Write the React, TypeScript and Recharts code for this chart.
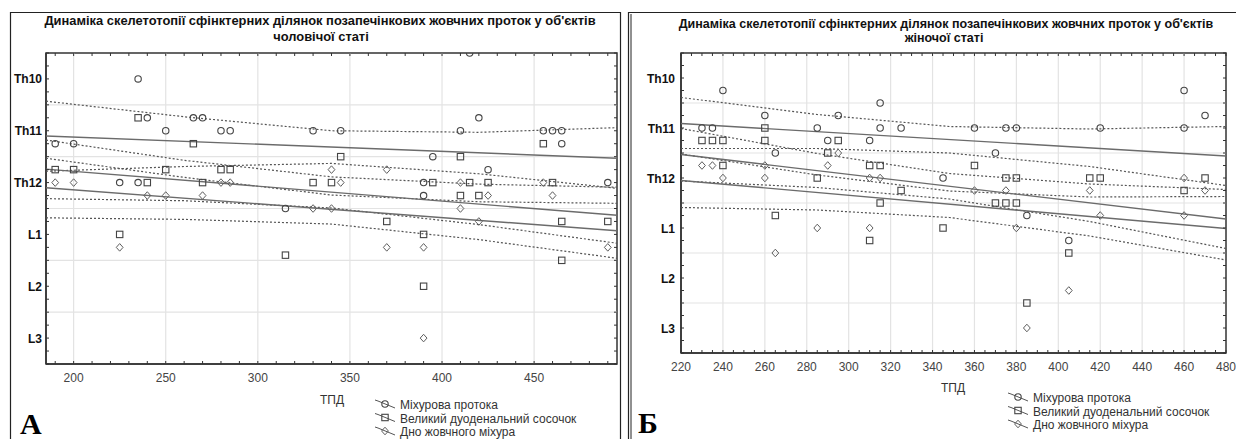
import React from 'react';
import { ScatterChart, Scatter, XAxis, YAxis, ReferenceLine, ReferenceArea } from 'recharts';

type Pt = [number, number];

const seriesNames = ['Міхурова протока', 'Великий дуоденальний сосочок', 'Дно жовчного міхура'];
const titleLine1 = "Динаміка скелетотопії сфінктерних ділянок позапечінкових жовчних проток у об'єктів";
const vertebraTicks = [10, 11, 12, 13, 14, 15];
const vertebraLabels = ['Th10', 'Th11', 'Th12', 'L1', 'L2', 'L3'];
const vertebraGrid = [10.5, 11.5, 12.5, 13.5, 14.5];

// A - чоловіча стать
const maleXLabels = [200, 250, 300, 350, 400, 450];
const maleDuct: Pt[] = [
  [235, 10], [240, 10.75], [265, 10.75], [270, 10.75], [250, 11], [280, 11], [285, 11], [330, 11],
  [345, 11], [190, 11.25], [200, 11.25], [225, 12], [235, 12], [315, 12.5], [390, 12], [390, 12.25],
  [395, 11.5], [410, 11], [420, 10.75], [425, 11.75], [455, 11], [460, 11], [465, 11], [465, 11.25],
  [490, 12], [415, 9.5],
];
const malePapilla: Pt[] = [
  [235, 10.75], [265, 11.25], [190, 11.75], [200, 11.75], [240, 12], [250, 11.75], [270, 12], [280, 11.75],
  [285, 11.75], [225, 13], [315, 13.4], [330, 12], [340, 12], [345, 11.5], [370, 12.75], [390, 13],
  [390, 14], [395, 12], [410, 11.5], [415, 12], [410, 12.25], [420, 12.25], [425, 12], [455, 11.25],
  [460, 12], [465, 12.75], [465, 13.5], [490, 12.75],
];
const maleFundus: Pt[] = [
  [190, 12], [200, 12], [240, 12.25], [250, 12.25], [270, 12.25], [280, 12], [285, 12], [225, 13.25],
  [330, 12.5], [340, 12.5], [340, 11.75], [345, 12], [370, 11.75], [370, 13.25], [390, 13.25], [390, 15],
  [410, 12], [410, 12.5], [425, 12.25], [420, 12.75], [455, 12], [460, 12.25], [490, 13.25],
];
const maleFitX = [185, 495];
const maleDuctFit = [11.1, 11.53];
const malePapillaFit = [11.74, 12.63];
const maleFundusFit = [12.1, 12.93];
const maleBandX = [185, 260, 340, 420, 495];
const maleDuctUpper = [10.43, 10.73, 11.0, 11.03, 10.94];
const maleDuctLower = [11.78, 11.69, 11.63, 11.83, 12.11];
const malePapillaUpper = [11.18, 11.57, 11.89, 12.03, 12.09];
const malePapillaLower = [12.31, 12.35, 12.49, 12.81, 13.17];
const maleFundusUpper = [11.53, 11.9, 12.24, 12.37, 12.4];
const maleFundusLower = [12.68, 12.71, 12.8, 13.1, 13.46];

// Б - жіноча стать
const femaleXLabels = [220, 240, 260, 280, 300, 320, 340, 360, 380, 400, 420, 440, 460, 480];
const femaleDuct: Pt[] = [
  [240, 10.25], [230, 11], [235, 11], [260, 10.75], [265, 11.5], [285, 11], [290, 11.25], [295, 10.75],
  [310, 11.25], [315, 10.5], [315, 11], [325, 11], [345, 12], [360, 11], [370, 11.5], [375, 11],
  [380, 11], [385, 12.75], [405, 13.25], [420, 11], [460, 10.25], [460, 11], [470, 10.75],
];
const femalePapilla: Pt[] = [
  [230, 11.25], [235, 11.25], [240, 11.25], [240, 11.75], [260, 11], [260, 11.25], [265, 12.75], [285, 12],
  [295, 11.25], [290, 11.5], [310, 11.75], [315, 11.75], [325, 12.25], [315, 12.5], [310, 13.25], [345, 13],
  [360, 11.75], [375, 12], [380, 12], [370, 12.5], [375, 12.5], [380, 12.5], [405, 13.5], [385, 14.5],
  [415, 12], [420, 12], [460, 12.25], [470, 12],
];
const femaleFundus: Pt[] = [
  [230, 11.75], [235, 11.75], [240, 12], [260, 11.75], [260, 12], [265, 13.5], [285, 13], [295, 11.5],
  [290, 11.75], [310, 12], [315, 12], [310, 13], [360, 12.25], [375, 12.25], [380, 13], [405, 14.25],
  [385, 15], [415, 12.25], [420, 12.75], [460, 12], [460, 12.75], [470, 12.25],
];
const femaleFitX = [220, 480];
const femaleDuctFit = [10.91, 11.56];
const femalePapillaFit = [11.53, 12.82];
const femaleFundusFit = [12.05, 13.01];
const femaleBandX = [220, 285, 348, 415, 480];
const femaleDuctUpper = [10.39, 10.73, 10.97, 11.02, 10.97];
const femaleDuctLower = [11.41, 11.41, 11.5, 11.77, 12.15];
const femalePapillaUpper = [11.01, 11.51, 11.91, 12.12, 12.23];
const femalePapillaLower = [12.06, 12.19, 12.42, 12.87, 13.41];
const femaleFundusUpper = [11.52, 11.94, 12.26, 12.38, 12.37];
const femaleFundusLower = [12.59, 12.64, 12.79, 13.16, 13.64];

const H = 439;
const TOP = 53;
const FONT = '"Liberation Sans", Arial, sans-serif';

const range = (a: number, b: number, step: number) => {
  const out: number[] = [];
  for (let v = a; v <= b + 1e-9; v += step) out.push(Math.round(v * 100) / 100);
  return out;
};

const toXY = (xs: number[], ys: number[]) => xs.map((x, i) => ({ x, y: ys[i] }));

function Marker({ kind, cx, cy }: { kind: number; cx: number; cy: number }) {
  if (kind === 0) return <circle cx={cx} cy={cy} r={3.2} fill="none" stroke="#444" strokeWidth={1.1} />;
  if (kind === 1)
    return <rect x={cx - 3.2} y={cy - 3.2} width={6.4} height={6.4} fill="none" stroke="#444" strokeWidth={1.1} />;
  return (
    <path
      d={`M${cx},${cy - 3.8}L${cx + 3.4},${cy}L${cx},${cy + 3.8}L${cx - 3.4},${cy}Z`}
      fill="none"
      stroke="#5e5e5e"
      strokeWidth={1}
    />
  );
}

interface PanelProps {
  left: number;
  width: number;
  marginRight: number;
  marginBottom: number;
  yAxisWidth: number;
  labelGap: number;
  xDomain: [number, number];
  xTicks: number[];
  xLabels: number[];
  xGrid: number[];
  points: Pt[][];
  fitX: number[];
  fits: number[][];
  bandX: number[];
  bands: number[][];
}

function Panel(p: PanelProps) {
  const plotW = p.width - p.marginRight - p.yAxisWidth;
  const plotH = H - TOP - p.marginBottom - 30;
  const yTicks = range(9.5, 15.5, 0.25);

  const XTick = (t: any) => {
    const v = t.payload.value;
    const major = p.xLabels.includes(v);
    return (
      <g>
        <line x1={t.x} x2={t.x} y1={t.y} y2={t.y - 3} stroke="#333" />
        <line x1={t.x} x2={t.x} y1={t.y - plotH} y2={t.y - plotH + 3} stroke="#333" />
        {major && (
          <text x={t.x} y={t.y + 18} textAnchor="middle" fontSize={12} fontFamily={FONT} fill="#444">
            {v}
          </text>
        )}
      </g>
    );
  };

  const YTick = (t: any) => {
    const v = t.payload.value;
    const idx = vertebraTicks.indexOf(v);
    return (
      <g>
        <line x1={t.x} x2={t.x + 3} y1={t.y} y2={t.y} stroke="#333" />
        <line x1={t.x + plotW} x2={t.x + plotW - 3} y1={t.y} y2={t.y} stroke="#333" />
        {idx >= 0 && (
          <text
            x={t.x - p.labelGap}
            y={t.y + 4.5}
            textAnchor="end"
            fontSize={12}
            fontWeight="bold"
            fontFamily={FONT}
            fill="#111"
          >
            {vertebraLabels[idx]}
          </text>
        )}
      </g>
    );
  };

  return (
    <div style={{ position: 'absolute', left: p.left, top: 0 }}>
      <ScatterChart
        width={p.width}
        height={H}
        margin={{ top: TOP, right: p.marginRight, bottom: p.marginBottom, left: 0 }}
      >
        <XAxis
          type="number"
          dataKey="x"
          domain={p.xDomain}
          ticks={p.xTicks}
          interval={0}
          allowDataOverflow
          height={30}
          tickSize={0}
          tickMargin={0}
          tickLine={false}
          axisLine={{ stroke: '#333', strokeWidth: 1.5 }}
          tick={XTick}
        />
        <YAxis
          type="number"
          dataKey="y"
          domain={[9.5, 15.5]}
          reversed
          ticks={yTicks}
          interval={0}
          allowDataOverflow
          width={p.yAxisWidth}
          tickSize={0}
          tickMargin={0}
          tickLine={false}
          axisLine={{ stroke: '#333', strokeWidth: 1.5 }}
          tick={YTick}
        />
        {vertebraGrid.map((g) => (
          <ReferenceLine key={'h' + g} y={g} stroke="#e3e3e3" strokeWidth={1.2} />
        ))}
        {p.xGrid.map((g) => (
          <ReferenceLine key={'v' + g} x={g} stroke="#e3e3e3" strokeWidth={1.2} />
        ))}
        <ReferenceArea
          x1={p.xDomain[0]}
          x2={p.xDomain[1]}
          y1={9.5}
          y2={15.5}
          fill="none"
          fillOpacity={0}
          stroke="#333"
          strokeWidth={1.5}
        />
        {p.bands.map((b, i) => (
          <Scatter
            key={'b' + i}
            data={toXY(p.bandX, b)}
            line={{ stroke: '#555', strokeWidth: 1.2, strokeDasharray: '2 2' }}
            shape={() => <g />}
            isAnimationActive={false}
          />
        ))}
        {p.fits.map((f, i) => (
          <Scatter
            key={'f' + i}
            data={toXY(p.fitX, f)}
            line={{ stroke: '#6b6b6b', strokeWidth: 1.4 }}
            shape={() => <g />}
            isAnimationActive={false}
          />
        ))}
        {p.points.map((pts, i) => (
          <Scatter
            key={'p' + i}
            name={seriesNames[i]}
            data={pts.map(([x, y]) => ({ x, y }))}
            shape={(s: any) => <Marker kind={i} cx={s.cx} cy={s.cy} />}
            isAnimationActive={false}
          />
        ))}
      </ScatterChart>
    </div>
  );
}

function LegendBlock({ x, y }: { x: number; y: number }) {
  return (
    <g>
      {seriesNames.map((n, i) => {
        const cy = y + i * 13.5;
        return (
          <g key={n}>
            <path d={`M${x},${cy - 5} L${x + 3},${cy - 4} L${x + 20},${cy + 3}`} stroke="#555" fill="none" />
            <Marker kind={i} cx={x + 10} cy={cy - 1} />
            <text x={x + 25} y={cy + 4} fontSize={12} fontFamily={FONT} fill="#333">
              {n}
            </text>
          </g>
        );
      })}
    </g>
  );
}

export default function App() {
  return (
    <div style={{ position: 'absolute', left: 0, top: 0, width: 1236, height: H, background: '#fff', overflow: 'hidden' }}>
      <Panel
        left={0}
        width={630}
        marginRight={13}
        marginBottom={45}
        yAxisWidth={46}
        labelGap={4}
        xDomain={[185, 495]}
        xTicks={range(190, 490, 10)}
        xLabels={maleXLabels}
        xGrid={maleXLabels}
        points={[maleDuct, malePapilla, maleFundus]}
        fitX={maleFitX}
        fits={[maleDuctFit, malePapillaFit, maleFundusFit]}
        bandX={maleBandX}
        bands={[maleDuctUpper, maleDuctLower, malePapillaUpper, malePapillaLower, maleFundusUpper, maleFundusLower]}
      />
      <Panel
        left={630}
        width={606}
        marginRight={10}
        marginBottom={56}
        yAxisWidth={51}
        labelGap={6}
        xDomain={[220, 480]}
        xTicks={range(220, 480, 5)}
        xLabels={femaleXLabels}
        xGrid={femaleXLabels.slice(1, -1)}
        points={[femaleDuct, femalePapilla, femaleFundus]}
        fitX={femaleFitX}
        fits={[femaleDuctFit, femalePapillaFit, femaleFundusFit]}
        bandX={femaleBandX}
        bands={[
          femaleDuctUpper, femaleDuctLower, femalePapillaUpper, femalePapillaLower, femaleFundusUpper, femaleFundusLower,
        ]}
      />
      <svg width={1236} height={H} style={{ position: 'absolute', left: 0, top: 0, pointerEvents: 'none' }}>
        <path d="M10.5,450 V12.5 H620.5 V450" fill="none" stroke="#222" strokeWidth={1.2} />
        <path d="M628.5,450 V12.5 H1240" fill="none" stroke="#222" strokeWidth={1.2} />
        <line x1={631} x2={631} y1={14} y2={450} stroke="#222" strokeWidth={1} />
        <g fontFamily={FONT} fontWeight="bold" fill="#111">
          <text x={320} y={25} textAnchor="middle" fontSize={12.9}>{titleLine1}</text>
          <text x={321} y={41} textAnchor="middle" fontSize={12.9}>чоловічої статі</text>
          <text x={946} y={28} textAnchor="middle" fontSize={12.5}>{titleLine1}</text>
          <text x={944} y={41.5} textAnchor="middle" fontSize={12.5}>жіночої статі</text>
        </g>
        <text x={332} y={404} textAnchor="middle" fontSize={12} fontFamily={FONT} fill="#333">ТПД</text>
        <text x={953} y={392} textAnchor="middle" fontSize={12} fontFamily={FONT} fill="#333">ТПД</text>
        <LegendBlock x={375} y={405} />
        <LegendBlock x={1008} y={398} />
        <g fontFamily='"Liberation Serif", "Times New Roman", serif' fontWeight="bold" fontSize={30} fill="#000">
          <text x={20} y={434}>А</text>
          <text x={638} y={433}>Б</text>
        </g>
      </svg>
    </div>
  );
}
